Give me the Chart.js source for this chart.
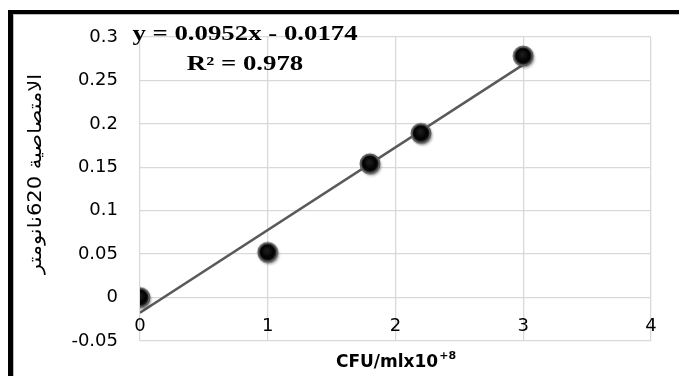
<!DOCTYPE html>
<html>
<head>
<meta charset="utf-8">
<script src="https://cdn.jsdelivr.net/npm/chart.js@4.4.0/dist/chart.umd.min.js"></script>
<style>
  html, body { margin: 0; padding: 0; background: #ffffff; }
  canvas { display: block; }
</style>
</head>
<body>
<canvas id="c" width="679" height="376"></canvas>
<script>
// ---- data ----
const xValues = [0, 1, 1.8, 2.2, 3];
const yValues = [0, 0.052, 0.154, 0.189, 0.278];
const trendX = [0, 3];
const trendY = [-0.0174, 0.2682];
const xTicks = [0, 1, 2, 3, 4];
const yTicks = [-0.05, 0, 0.05, 0.1, 0.15, 0.2, 0.25, 0.3];
const equationText = 'y = 0.0952x - 0.0174';
const r2Text = 'R² = 0.978';
const xTitleMain = 'CFU/mlx10';
const xTitleSup = '+8';
const yTitle = 'الامتصاصية 620نانومتر';

// ---- marker sprite (sphere look) ----
function makeMarker() {
  const c = document.createElement('canvas');
  c.width = 28; c.height = 28;
  const g = c.getContext('2d');
  g.shadowColor = 'rgba(0,0,0,0.45)';
  g.shadowBlur = 3; g.shadowOffsetX = 1.5; g.shadowOffsetY = 2;
  g.beginPath(); g.arc(14, 14, 9.5, 0, Math.PI * 2);
  const grad = g.createRadialGradient(13, 12, 1, 14, 14, 9.5);
  grad.addColorStop(0, '#1c1c1c');
  grad.addColorStop(0.65, '#000000');
  grad.addColorStop(1, '#333333');
  g.fillStyle = grad; g.fill();
  g.shadowColor = 'transparent';
  g.lineWidth = 2; g.strokeStyle = '#5e5e5e'; g.stroke();
  return c;
}
const marker = makeMarker();

const STRETCH = 1.34;

const decorPlugin = {
  id: 'decor',
  afterDraw(chart) {
    const ctx = chart.ctx;
    ctx.save();
    // outer frame (left and top thick black lines)
    ctx.fillStyle = '#000000';
    ctx.fillRect(8, 10, 5, 366);
    ctx.fillRect(8, 10, 671, 4);
    ctx.fillStyle = '#bdbdbd';
    ctx.fillRect(13, 14, 1, 362);
    ctx.fillRect(13, 14, 666, 1);

    // equation + R2 (horizontally stretched serif bold)
    ctx.fillStyle = '#000000';
    ctx.font = 'bold 20px "Liberation Serif"';
    ctx.textAlign = 'center';
    ctx.textBaseline = 'alphabetic';
    ctx.save();
    ctx.translate(245, 40);
    ctx.scale(STRETCH, 1);
    ctx.fillText(equationText, 0, 0);
    ctx.restore();
    ctx.save();
    ctx.translate(245, 70);
    ctx.scale(STRETCH, 1);
    ctx.fillText(r2Text, 0, 0);
    ctx.restore();

    // x axis title with superscript
    ctx.font = 'bold 17px "DejaVu Sans"';
    const wMain = ctx.measureText(xTitleMain).width;
    ctx.font = 'bold 11px "DejaVu Sans"';
    const wSup = ctx.measureText(xTitleSup).width;
    const cx = (chart.chartArea.left + chart.chartArea.right) / 2;
    const startX = cx - (wMain + wSup) / 2;
    ctx.textAlign = 'left';
    ctx.font = 'bold 17px "DejaVu Sans"';
    ctx.fillText(xTitleMain, startX, 367);
    ctx.font = 'bold 11px "DejaVu Sans"';
    ctx.fillText(xTitleSup, startX + wMain + 1, 359);

    // y axis title (rotated)
    ctx.save();
    ctx.translate(36, 174);
    ctx.rotate(-Math.PI / 2);
    ctx.scale(1, 0.9);
    ctx.font = '21px "DejaVu Sans"';
    ctx.textAlign = 'center';
    ctx.textBaseline = 'middle';
    ctx.fillText(yTitle, 0, 0);
    ctx.restore();
    ctx.restore();
  }
};

new Chart(document.getElementById('c'), {
  type: 'scatter',
  data: {
    datasets: [
      {
        label: 'data',
        data: xValues.map((x, i) => ({ x: x, y: yValues[i] })),
        pointStyle: marker,
        pointRadius: 10,
        order: 0
      },
      {
        type: 'line',
        label: 'trend',
        data: trendX.map((x, i) => ({ x: x, y: trendY[i] })),
        borderColor: '#5a5a5a',
        borderWidth: 2.5,
        pointRadius: 0,
        fill: false,
        order: 1
      }
    ]
  },
  options: {
    responsive: false,
    animation: false,
    devicePixelRatio: 1,
    layout: { padding: { left: 0, top: 37, right: 28, bottom: 35 } },
    plugins: { legend: { display: false }, tooltip: { enabled: false } },
    scales: {
      x: {
        type: 'linear',
        position: { y: 0 },
        min: 0, max: 4,
        afterBuildTicks: (s) => { s.ticks = xTicks.map(v => ({ value: v })); },
        grid: { color: '#d9d9d9', lineWidth: 1.3, drawTicks: false },
        border: { display: false },
        ticks: {
          padding: 18,
          color: '#000000',
          font: { family: 'DejaVu Sans', size: 18 },
          callback: (v) => String(v)
        }
      },
      y: {
        type: 'linear',
        min: -0.05, max: 0.3,
        afterBuildTicks: (s) => { s.ticks = yTicks.map(v => ({ value: v })); },
        afterFit: (s) => { s.width = 140; },
        grid: { color: '#d9d9d9', lineWidth: 1.3, drawTicks: false },
        border: { display: false },
        ticks: {
          padding: 22,
          color: '#000000',
          font: { family: 'DejaVu Sans', size: 18 },
          callback: (v) => String(v)
        }
      }
    }
  },
  plugins: [decorPlugin]
});
</script>
</body>
</html>
